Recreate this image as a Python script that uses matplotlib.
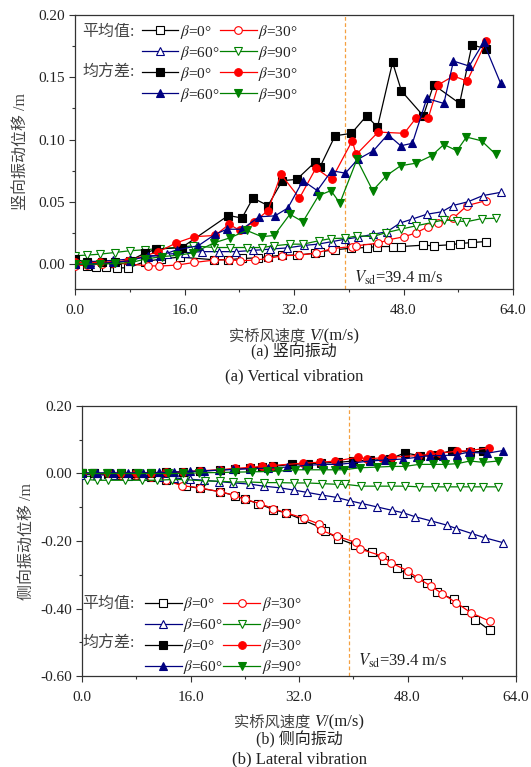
import matplotlib
matplotlib.use("Agg")
import matplotlib.pyplot as plt
from matplotlib.ticker import MultipleLocator, FixedLocator
from matplotlib.offsetbox import TextArea, HPacker, AnchoredOffsetbox

plt.rcParams['font.family'] = ['Liberation Serif', 'Noto Sans CJK SC']
plt.rcParams['mathtext.fontset'] = 'stix'
plt.rcParams['axes.unicode_minus'] = False

# ---------------- data: vertical vibration (a) ----------------
V_m0 = [0, 1.7, 3.0, 4.6, 6.2, 7.8, 10.2, 12.5, 15.3, 20.3, 22.4, 24.4, 26.8, 28.2, 30.3, 32.4, 35.1, 35.8, 38.0, 40.4, 42.6, 44.2, 46.4, 47.7, 50.9, 52.4, 54.8, 56.2, 58.0, 60.0]
y_m0 = [0, -0.0013, -0.002, -0.0027, -0.003, -0.003, 0.002, 0.004, 0.0056, 0.0035, 0.0035, 0.0045, 0.005, 0.006, 0.0072, 0.0072, 0.0088, 0.0099, 0.0115, 0.0128, 0.0133, 0.0141, 0.0141, 0.0141, 0.0152, 0.0147, 0.0155, 0.0165, 0.0173, 0.0181]
V_m30 = [0, 1.7, 3.9, 5.6, 10.7, 12.3, 14.9, 17.4, 20.3, 22.5, 24.1, 26.3, 28.2, 30.3, 32.8, 35.2, 37.6, 40.5, 41.1, 44.3, 45.8, 48.1, 49.8, 51.6, 53.1, 55.3, 57.3, 60.1]
y_m30 = [-0.0013, -0.0008, 0, 0.001, -0.0013, -0.0016, -0.0008, 0.0013, 0.0032, 0.0035, 0.0027, 0.0032, 0.0045, 0.0067, 0.0072, 0.0088, 0.0125, 0.0141, 0.0147, 0.0168, 0.0195, 0.022, 0.025, 0.030, 0.033, 0.037, 0.047, 0.051]
V_m60 = [0, 2.2, 5.6, 8.0, 10.7, 13.5, 16.0, 18.5, 21.0, 23.5, 26.0, 28.5, 31.0, 33.5, 35.5, 37.5, 39.5, 41.4, 43.6, 45.6, 47.5, 49.2, 51.4, 53.6, 55.2, 57.4, 59.6, 62.2]
y_m60 = [0.001, 0.002, 0.003, 0.004, 0.006, 0.008, 0.009, 0.010, 0.010, 0.010, 0.011, 0.012, 0.013, 0.015, 0.016, 0.018, 0.020, 0.0216, 0.024, 0.026, 0.033, 0.036, 0.040, 0.042, 0.047, 0.050, 0.055, 0.0576]
V_m90 = [0, 1.7, 3.7, 5.8, 8.0, 10.2, 12.4, 14.9, 17.3, 20.3, 22.6, 25.1, 27.3, 29.1, 31.4, 33.3, 35.6, 37.4, 39.5, 41.2, 43.5, 45.5, 47.6, 49.8, 52.1, 53.9, 55.8, 57.2, 59.4, 61.5]
y_m90 = [0.0067, 0.0072, 0.008, 0.0093, 0.0107, 0.0115, 0.0125, 0.0133, 0.0147, 0.0133, 0.0133, 0.0133, 0.0133, 0.0147, 0.016, 0.016, 0.0187, 0.0205, 0.0208, 0.0227, 0.0221, 0.0253, 0.028, 0.0307, 0.0333, 0.0355, 0.0347, 0.034, 0.0365, 0.0368]
V_r0 = [0, 1.7, 3.9, 5.8, 8.0, 10.2, 11.9, 15.6, 22.4, 24.4, 26.0, 28.2, 30.3, 32.4, 35.1, 35.8, 38.0, 40.4, 42.6, 44.2, 46.4, 47.7, 50.9, 52.4, 56.2, 58.0, 60.0]
y_r0 = [0.004, 0.0013, 0.0013, 0.0013, 0.0027, 0.0088, 0.012, 0.0133, 0.039, 0.037, 0.053, 0.047, 0.067, 0.068, 0.082, 0.078, 0.103, 0.105, 0.119, 0.110, 0.162, 0.139, 0.119, 0.144, 0.129, 0.176, 0.173]
V_r30 = [0, 3.7, 7.8, 12.2, 14.8, 17.4, 20.5, 22.5, 24.1, 26.2, 28.2, 30.1, 32.8, 35.2, 37.5, 40.5, 41.1, 44.3, 48.1, 49.8, 51.6, 53.1, 55.3, 57.3, 60.1]
y_r30 = [0.0013, 0.0013, 0.0027, 0.010, 0.017, 0.022, 0.023, 0.032, 0.027, 0.034, 0.043, 0.072, 0.053, 0.077, 0.068, 0.099, 0.088, 0.106, 0.105, 0.117, 0.117, 0.144, 0.151, 0.147, 0.179]
V_r60 = [0, 2.2, 5.6, 8.0, 10.7, 12.4, 14.9, 18.0, 20.5, 22.2, 24.4, 26.9, 29.2, 31.1, 33.3, 35.4, 37.5, 39.5, 41.3, 43.6, 45.7, 47.6, 49.3, 51.4, 53.9, 55.3, 57.6, 59.7, 62.2]
y_r60 = [0, 0, 0.0013, 0.0027, 0.0067, 0.0067, 0.0115, 0.0147, 0.024, 0.028, 0.028, 0.038, 0.0387, 0.045, 0.067, 0.059, 0.075, 0.073, 0.084, 0.091, 0.104, 0.095, 0.097, 0.133, 0.129, 0.163, 0.159, 0.178, 0.145]
V_r90 = [0, 1.5, 3.7, 5.8, 8.3, 10.2, 12.7, 14.9, 17.3, 20.3, 22.6, 25.1, 27.3, 29.1, 31.4, 33.3, 35.6, 37.4, 38.7, 41.2, 43.5, 45.5, 47.6, 49.8, 52.1, 53.9, 55.8, 57.2, 59.4, 61.5]
y_r90 = [0, 0, 0, 0.0005, 0.0013, 0.004, 0.006, 0.007, 0.009, 0.017, 0.021, 0.027, 0.022, 0.023, 0.040, 0.034, 0.055, 0.059, 0.049, 0.084, 0.059, 0.071, 0.079, 0.081, 0.087, 0.096, 0.091, 0.102, 0.099, 0.088]

# ---------------- data: lateral vibration (b) ----------------
V_lm0 = [0, 1.7, 3.9, 5.8, 8.0, 10.2, 12.4, 15.4, 17.4, 20.4, 22.6, 24.1, 26.0, 28.2, 30.1, 32.4, 35.2, 35.9, 37.8, 40.3, 42.7, 44.5, 46.4, 47.9, 50.9, 52.3, 54.8, 56.3, 58.0, 60.1]
y_lm0 = [0, 0, -0.002, -0.003, -0.005, -0.01, -0.02, -0.0375, -0.044, -0.054, -0.066, -0.077, -0.089, -0.107, -0.117, -0.136, -0.160, -0.171, -0.193, -0.212, -0.234, -0.255, -0.279, -0.298, -0.324, -0.351, -0.373, -0.405, -0.433, -0.464]
V_lm30 = [0, 1.7, 3.9, 5.8, 8.0, 10.2, 12.4, 14.7, 17.4, 20.3, 22.4, 24.1, 26.2, 28.2, 30.1, 32.8, 35.0, 35.2, 37.6, 40.4, 41.0, 44.2, 45.6, 48.0, 49.6, 51.5, 53.1, 55.2, 57.3, 60.1]
y_lm30 = [0, 0, -0.002, -0.003, -0.005, -0.01, -0.02, -0.036, -0.0425, -0.054, -0.064, -0.077, -0.089, -0.104, -0.1165, -0.133, -0.150, -0.168, -0.186, -0.204, -0.224, -0.244, -0.265, -0.288, -0.311, -0.334, -0.356, -0.383, -0.412, -0.4375]
V_lm60 = [0, 2.2, 4.5, 6.8, 9.0, 11.3, 13.6, 15.9, 18.0, 20.2, 22.3, 24.8, 26.8, 29.2, 31.2, 33.2, 35.4, 37.6, 39.5, 41.3, 43.5, 45.7, 47.4, 49.1, 51.4, 53.8, 55.2, 57.5, 59.5, 62.1]
y_lm60 = [-0.003, -0.004, -0.005, -0.006, -0.008, -0.010, -0.013, -0.017, -0.020, -0.024, -0.0277, -0.0316, -0.0375, -0.0425, -0.049, -0.056, -0.064, -0.071, -0.081, -0.089, -0.099, -0.109, -0.1165, -0.128, -0.140, -0.153, -0.163, -0.178, -0.191, -0.205]
V_lm90 = [0.7, 2.2, 3.9, 6.3, 8.8, 11.0, 13.2, 15.0, 18.2, 20.4, 22.3, 24.5, 26.8, 29.0, 31.2, 33.2, 35.4, 37.6, 38.8, 41.2, 43.5, 45.5, 47.7, 49.7, 52.1, 53.8, 55.8, 57.4, 59.2, 61.4]
y_lm90 = [-0.018, -0.02, -0.02, -0.02, -0.02, -0.02, -0.018, -0.018, -0.022, -0.023, -0.025, -0.025, -0.027, -0.027, -0.028, -0.028, -0.030, -0.032, -0.032, -0.0375, -0.0375, -0.0375, -0.0375, -0.0395, -0.0395, -0.0395, -0.0395, -0.0395, -0.0395, -0.0395]
V_lr0 = [0, 1.7, 3.9, 5.8, 8.0, 10.2, 12.4, 14.9, 17.4, 20.3, 22.5, 24.8, 26.5, 28.2, 30.9, 33.4, 35.3, 37.8, 40.0, 42.5, 45.4, 47.6, 49.8, 52.3, 54.5, 57.2, 59.2]
y_lr0 = [0, 0, 0, 0, 0, 0.002, 0.003, 0.005, 0.007, 0.01, 0.013, 0.016, 0.019, 0.021, 0.027, 0.029, 0.031, 0.033, 0.037, 0.039, 0.043, 0.061, 0.053, 0.056, 0.068, 0.063, 0.066]
V_lr30 = [0, 1.7, 3.9, 5.8, 8.0, 10.2, 12.4, 14.9, 17.4, 20.3, 22.5, 24.8, 26.5, 28.0, 32.6, 35.1, 37.3, 40.7, 42.0, 44.2, 45.7, 49.6, 51.3, 52.8, 55.3, 57.2, 60.0]
y_lr30 = [0, 0, 0, 0, 0, 0.002, 0.003, 0.005, 0.008, 0.011, 0.015, 0.018, 0.021, 0.0237, 0.0306, 0.0336, 0.0365, 0.0484, 0.0434, 0.0464, 0.0484, 0.0533, 0.0563, 0.0603, 0.066, 0.068, 0.076]
V_lr60 = [0, 2.2, 4.5, 6.8, 9.0, 11.3, 13.6, 15.9, 18.0, 20.2, 22.3, 24.8, 27.5, 30.2, 33.1, 35.6, 37.8, 39.8, 42.5, 44.7, 47.4, 49.4, 51.3, 53.3, 55.3, 57.0, 59.7, 62.1]
y_lr60 = [0.002, 0.002, 0.002, 0.002, 0.002, 0.003, 0.004, 0.006, 0.008, 0.010, 0.012, 0.014, 0.016, 0.019, 0.024, 0.027, 0.027, 0.031, 0.037, 0.040, 0.043, 0.048, 0.053, 0.053, 0.056, 0.063, 0.060, 0.068]
V_lr90 = [0, 1.5, 3.7, 5.8, 8.3, 10.2, 12.7, 14.9, 17.3, 20.3, 22.6, 25.1, 27.3, 28.9, 31.4, 33.2, 35.5, 37.3, 38.6, 41.0, 43.5, 45.7, 47.6, 49.7, 51.8, 53.5, 55.3, 57.2, 59.2, 61.4]
y_lr90 = [0, 0, 0, 0, 0, 0, 0, 0, 0.002, 0.003, 0.004, 0.005, 0.006, 0.0069, 0.011, 0.011, 0.011, 0.011, 0.011, 0.017, 0.019, 0.021, 0.021, 0.027, 0.027, 0.027, 0.029, 0.037, 0.033, 0.037]

V_sd = 39.4
betas = ['0', '30', '60', '90']
colors = ['black', '#FF0000', '#000080', '#008000']
markers = ['s', 'o', '^', 'v']

x_ticks = [0, 16, 32, 48, 64]
x_tick_labels = ['0.0', '16.0', '32.0', '48.0', '64.0']
top_yticks = [0.0, 0.05, 0.10, 0.15, 0.20]
top_ylabels = ['0.00', '0.05', '0.10', '0.15', '0.20']
bot_yticks = [-0.6, -0.4, -0.2, 0.0, 0.2]
bot_ylabels = ['-0.60', '-0.40', '-0.20', '0.00', '0.20']

TXT = '#222222'
CJK = '#444444'
W, H = 531, 767
fig = plt.figure(figsize=(W / 100, H / 100), dpi=100)
ax1 = fig.add_axes([75/W, 1-289/H, (513-75)/W, (289-15)/H])
ax2 = fig.add_axes([82/W, 1-676/H, (516-82)/W, (676-406)/H])

def draw(ax, mean_sets, rms_sets):
    handles_m, handles_r = [], []
    for (vx, vy), c, mk, b in zip(mean_sets, colors, markers, betas):
        h, = ax.plot(vx, vy, color=c, lw=0.9, marker=mk, ms=5.5, mfc='white',
                     mec=c, mew=0.8, label=r'$\beta$=' + b + '°', zorder=3)
        handles_m.append(h)
    for (vx, vy), c, mk, b in zip(rms_sets, colors, markers, betas):
        h, = ax.plot(vx, vy, color=c, lw=0.9, marker=mk, ms=5.5, mfc=c,
                     mec=c, mew=0.8, label=r'$\beta$=' + b + '°', zorder=4)
        handles_r.append(h)
    ax.axvline(V_sd, color='#F5A040', lw=0.9, ls=(0, (3, 2)), zorder=2)
    ax.set_xlim(0, 64)
    ax.xaxis.set_major_locator(FixedLocator(x_ticks))
    ax.set_xticklabels(x_tick_labels)
    ax.xaxis.set_minor_locator(MultipleLocator(8))
    ax.tick_params(which='both', direction='out', colors='#333333', labelsize=11,
                   labelcolor=TXT, top=False, right=False)
    ax.tick_params(which='major', length=4.5, width=0.8)
    ax.tick_params(which='minor', length=2.5, width=0.8)
    ax.tick_params(axis='x', which='major', pad=6)
    ax.tick_params(axis='y', which='major', pad=2.5)
    for s in ax.spines.values():
        s.set_color('#333333')
        s.set_linewidth(0.9)
    return handles_m, handles_r

def xlabel(xc, yc):
    t1 = TextArea('实桥风速度 ', textprops=dict(fontsize=11, color=CJK, family=['Noto Sans CJK SC']))
    t2 = TextArea('V', textprops=dict(fontsize=12, color=TXT, style='italic', family=['Liberation Serif']))
    t3 = TextArea('/(m/s)', textprops=dict(fontsize=12, color=TXT, family=['Liberation Serif']))
    box = HPacker(children=[t1, t2, t3], align='baseline', pad=0, sep=0)
    ab = AnchoredOffsetbox(loc='center', child=box, pad=0, borderpad=0, frameon=False,
                           bbox_to_anchor=(xc / W, 1 - yc / H), bbox_transform=fig.transFigure)
    fig.add_artist(ab)

hm, hr = draw(ax1,
              [(V_m0, y_m0), (V_m30, y_m30), (V_m60, y_m60), (V_m90, y_m90)],
              [(V_r0, y_r0), (V_r30, y_r30), (V_r60, y_r60), (V_r90, y_r90)])
ax1.set_ylim(-0.02, 0.20)
ax1.yaxis.set_major_locator(FixedLocator(top_yticks))
ax1.set_yticklabels(top_ylabels)
ax1.yaxis.set_minor_locator(MultipleLocator(0.025))
ax1.set_ylabel('竖向振动位移 /m', fontsize=11.5, color=CJK, labelpad=7)

hm2, hr2 = draw(ax2,
                [(V_lm0, y_lm0), (V_lm30, y_lm30), (V_lm60, y_lm60), (V_lm90, y_lm90)],
                [(V_lr0, y_lr0), (V_lr30, y_lr30), (V_lr60, y_lr60), (V_lr90, y_lr90)])
ax2.set_ylim(-0.6, 0.2)
ax2.yaxis.set_major_locator(FixedLocator(bot_yticks))
ax2.set_yticklabels(bot_ylabels)
ax2.yaxis.set_minor_locator(MultipleLocator(0.1))
ax2.set_ylabel('侧向振动位移 /m', fontsize=11.5, color=CJK, labelpad=4)

def legend(ax, hm, hr, x0, ytop):
    order = [hm[0], hm[2], hr[0], hr[2], hm[1], hm[3], hr[1], hr[3]]
    leg = ax.legend(handles=order, ncol=2, loc='upper left', bbox_to_anchor=(x0, ytop),
                    frameon=False, fontsize=11, handlelength=2.4, handletextpad=0.1,
                    columnspacing=0.05, labelspacing=0.2, borderpad=0, borderaxespad=0)
    for t in leg.get_texts():
        t.set_color(TXT)
    return leg

legend(ax1, hm, hr, 0.152, 0.972)
ax1.text(0.016, 0.937, '平均值:', transform=ax1.transAxes, fontsize=11.5, color=CJK, va='center')
ax1.text(0.016, 0.790, '均方差:', transform=ax1.transAxes, fontsize=11.5, color=CJK, va='center')
ax1.text(V_sd + 1.3, -0.011, r'$V_{\rm sd}$=39.4 m/s', fontsize=12, color=TXT, va='center')

legend(ax2, hm2, hr2, 0.145, 0.300)
ax2.text(0.0, 0.267, '平均值:', transform=ax2.transAxes, fontsize=11.5, color=CJK, va='center')
ax2.text(0.0, 0.119, '均方差:', transform=ax2.transAxes, fontsize=11.5, color=CJK, va='center')
ax2.text(V_sd + 1.3, -0.555, r'$V_{\rm sd}$=39.4 m/s', fontsize=12, color=TXT, va='center')

xlabel(294, 336)
xlabel(299, 722)
fig.text(294/W, 1-352/H, '(a) 竖向振动', ha='center', va='center', fontsize=11.5, color=TXT)
fig.text(294/W, 1-376/H, '(a) Vertical vibration', ha='center', va='center', fontsize=12, color=TXT)
fig.text(299/W, 1-740/H, '(b) 侧向振动', ha='center', va='center', fontsize=11.5, color=TXT)
fig.text(299/W, 1-759/H, '(b) Lateral vibration', ha='center', va='center', fontsize=12, color=TXT)

fig.savefig('out.png', dpi=100)
